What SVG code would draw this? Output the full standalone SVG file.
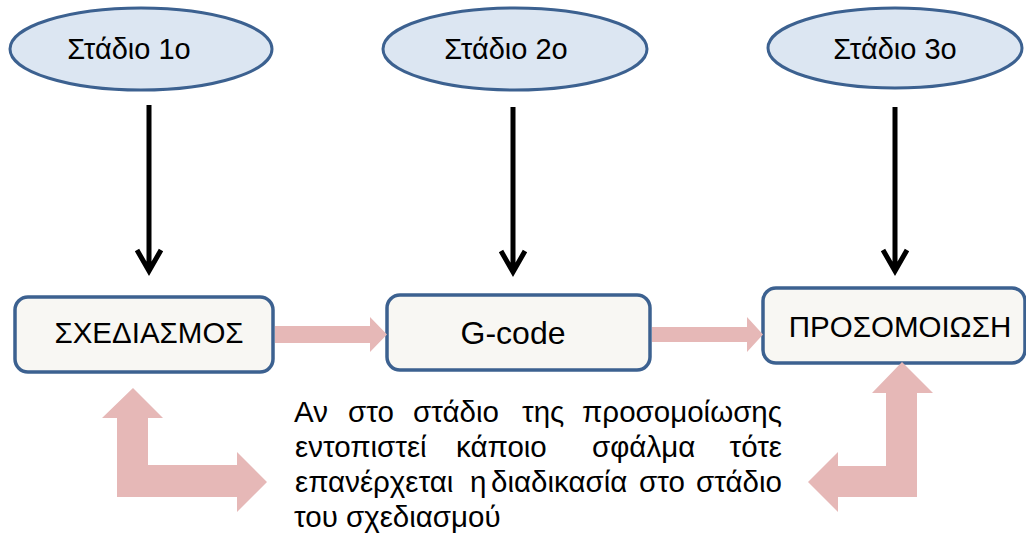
<svg xmlns="http://www.w3.org/2000/svg" width="1026" height="537" viewBox="0 0 1026 537">
<style>
.ell{fill:#dce6f2;stroke:#3c6190;stroke-width:3}
.box{fill:#f8f7f3;stroke:#3c6190;stroke-width:3.5}
.lbl{font-family:"Liberation Sans",Arial,sans-serif;fill:#000}
.big{font-size:29px}
.par{font-size:29.5px}
.blk{fill:none;stroke:#000;stroke-width:5}
.pink{fill:#e6b8b7}
</style>
<rect width="1026" height="537" fill="#fff"/>
<g id="stage1">
<ellipse class="ell" cx="141" cy="49" rx="131" ry="41"/>
<text class="lbl big" x="129" y="59" text-anchor="middle">Στάδιο 1ο</text>
</g>
<g id="stage2">
<ellipse class="ell" cx="515" cy="49" rx="132" ry="41"/>
<text class="lbl big" x="506" y="59" text-anchor="middle">Στάδιο 2ο</text>
</g>
<g id="stage3">
<ellipse class="ell" cx="895" cy="48" rx="127" ry="40"/>
<text class="lbl big" x="895" y="59" text-anchor="middle">Στάδιο 3ο</text>
</g>
<g id="design">
<rect class="box" x="15" y="297" width="258" height="75" rx="13"/>
<text class="lbl" font-size="29.5" x="149" y="343" text-anchor="middle">ΣΧΕΔΙΑΣΜΟΣ</text>
</g>
<g id="gcode">
<rect class="box" x="387" y="295" width="263" height="75" rx="13"/>
<text class="lbl" font-size="32" x="513" y="344" text-anchor="middle">G-code</text>
</g>
<g id="simulation">
<rect class="box" x="763" y="288" width="262" height="75" rx="13"/>
<text class="lbl" font-size="29.5" x="900" y="337" text-anchor="middle">ΠΡΟΣΟΜΟΙΩΣΗ</text>
</g>
<g id="connectors">
<path class="blk" d="M149,105V270M137,250L149,271L161,250"/>
<path class="blk" d="M513,107V271M501,251L513,272L525,251"/>
<path class="blk" d="M895,107V270M883,250L895,271L907,250"/>
<path class="pink" d="M275,326H370V317L387,334.5L370,352V343H275Z"/>
<path class="pink" d="M652,327H747V317L763,334.5L747,352V342H652Z"/>
<path class="pink" d="M133,388L163,418H148V465H237V452L267,482L237,512V497H117V418H102Z"/>
<path class="pink" d="M902,362L933,393H917V497H838V512L808,482L838,452V466H886V393H872Z"/>
</g>
<g id="note">
<text class="lbl par" y="422"><tspan x="294">Αν</tspan><tspan x="348">στο</tspan><tspan x="413">στάδιο</tspan><tspan x="522">της</tspan></text>
<text class="lbl par" x="782" y="422" text-anchor="end">προσομοίωσης</text>
<text class="lbl par" y="457"><tspan x="295">εντοπιστεί</tspan><tspan x="456">κάποιο</tspan><tspan x="592">σφάλμα</tspan></text>
<text class="lbl par" x="782" y="457" text-anchor="end">τότε</text>
<text class="lbl par" y="492"><tspan x="295">επανέρχεται</tspan><tspan x="470">η</tspan><tspan x="491">διαδικασία</tspan><tspan x="639">στο</tspan></text>
<text class="lbl par" x="782" y="492" text-anchor="end">στάδιο</text>
<text class="lbl par" x="294" y="527">του σχεδιασμού</text>
</g>
</svg>
